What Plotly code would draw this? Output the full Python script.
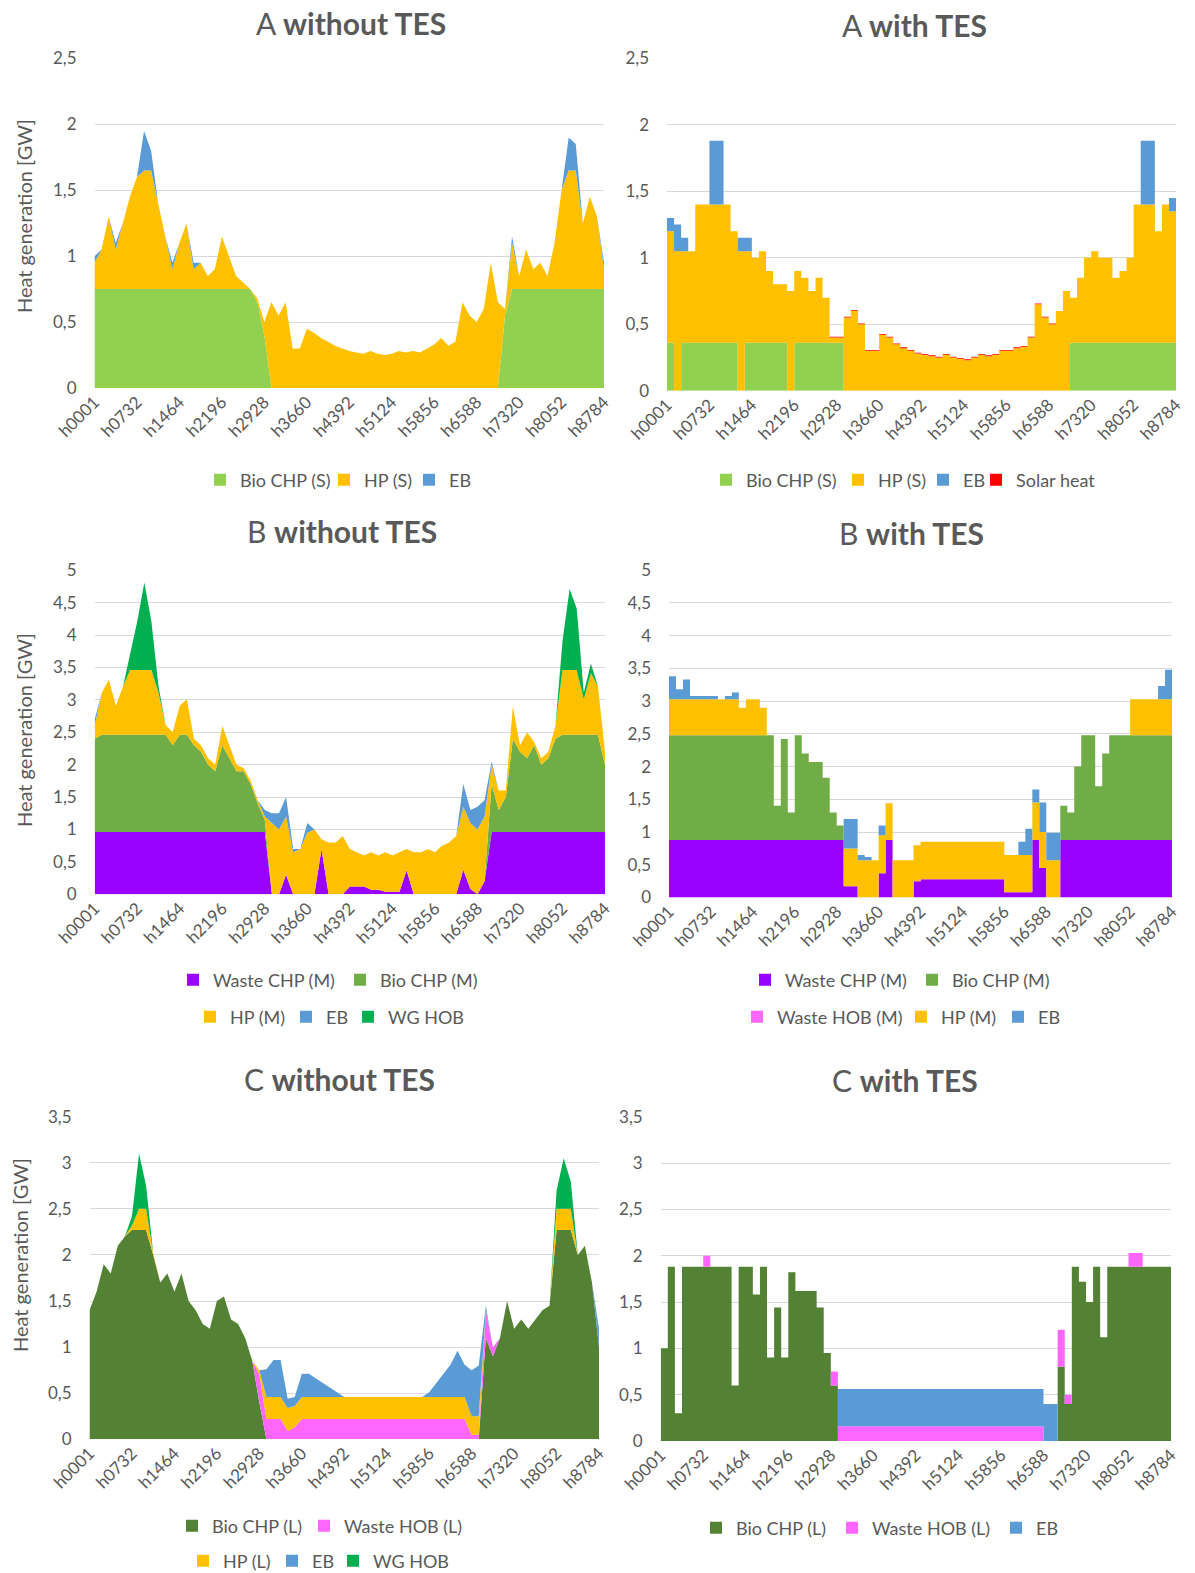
import plotly.graph_objects as go

# Hourly heat generation, sampled every 122 h over the year (last sample = h8784)
HOURS = list(range(1, 8785, 122)) + [8784]

TICK_HOURS = [1, 732, 1464, 2196, 2928, 3660, 4392, 5124, 5856, 6588, 7320, 8052, 8784]
TICK_LABELS = ["h0001", "h0732", "h1464", "h2196", "h2928", "h3660", "h4392",
               "h5124", "h5856", "h6588", "h7320", "h8052", "h8784"]

# ---------------- A without TES [GW] ----------------
A0_BIO_CHP = [
    0.75, 0.75, 0.75, 0.75, 0.75, 0.75, 0.75, 0.75, 0.75, 0.75, 0.75, 0.75,
    0.75, 0.75, 0.75, 0.75, 0.75, 0.75, 0.75, 0.75, 0.75, 0.75, 0.75, 0.65,
    0.4, 0, 0, 0, 0, 0, 0, 0, 0, 0, 0, 0,
    0, 0, 0, 0, 0, 0, 0, 0, 0, 0, 0, 0,
    0, 0, 0, 0, 0, 0, 0, 0, 0, 0, 0.55, 0.75,
    0.75, 0.75, 0.75, 0.75, 0.75, 0.75, 0.75, 0.75, 0.75, 0.75, 0.75, 0.75,
    0.75]
A0_HP = [
    0.2, 0.3, 0.55, 0.3, 0.5, 0.7, 0.85, 0.9, 0.9, 0.65, 0.4, 0.15,
    0.35, 0.5, 0.15, 0.2, 0.1, 0.15, 0.4, 0.25, 0.1, 0.05, 0.0, 0.03,
    0.1, 0.65, 0.55, 0.65, 0.3, 0.3, 0.45, 0.42, 0.38, 0.35, 0.32, 0.3,
    0.28, 0.27, 0.26, 0.28, 0.26, 0.25, 0.26, 0.28, 0.27, 0.28, 0.27, 0.3,
    0.33, 0.38, 0.32, 0.35, 0.65, 0.55, 0.5, 0.6, 0.95, 0.65, 0.05, 0.35,
    0.1, 0.3, 0.15, 0.2, 0.1, 0.35, 0.75, 0.9, 0.9, 0.5, 0.7, 0.55,
    0.15]
A0_EB = [
    0.05, 0, 0, 0.05, 0, 0, 0, 0.3, 0.15, 0, 0, 0.05,
    0, 0, 0.05, 0, 0, 0, 0, 0, 0, 0, 0, 0,
    0, 0, 0, 0, 0, 0, 0, 0, 0, 0, 0, 0,
    0, 0, 0, 0, 0, 0, 0, 0, 0, 0, 0, 0,
    0, 0, 0, 0, 0, 0, 0, 0, 0, 0, 0, 0.05,
    0, 0, 0, 0, 0, 0, 0, 0.25, 0.2, 0, 0, 0,
    0.05]

# ---------------- A with TES [GW] ----------------
A1_BIO_CHP = [
    0.36, 0, 0.36, 0.36, 0.36, 0.36, 0.36, 0.36, 0.36, 0.36, 0, 0.36,
    0.36, 0.36, 0.36, 0.36, 0.36, 0, 0.36, 0.36, 0.36, 0.36, 0.36, 0.36,
    0.36, 0, 0, 0, 0, 0, 0, 0, 0, 0, 0, 0,
    0, 0, 0, 0, 0, 0, 0, 0, 0, 0, 0, 0,
    0, 0, 0, 0, 0, 0, 0, 0, 0, 0.36, 0.36, 0.36,
    0.36, 0.36, 0.36, 0.36, 0.36, 0.36, 0.36, 0.36, 0.36, 0.36, 0.36, 0.36,
    0]
A1_HP = [
    0.84, 1.05, 0.69, 0.69, 1.04, 1.04, 1.04, 1.04, 1.04, 0.84, 1.05, 0.69,
    0.64, 0.69, 0.54, 0.44, 0.44, 0.75, 0.54, 0.49, 0.39, 0.49, 0.34, 0.04,
    0.04, 0.55, 0.6, 0.5, 0.3, 0.3, 0.42, 0.4, 0.35, 0.32, 0.3, 0.28,
    0.27, 0.26, 0.25, 0.27, 0.25, 0.24, 0.23, 0.25, 0.27, 0.26, 0.27, 0.3,
    0.3, 0.32, 0.33, 0.4, 0.65, 0.55, 0.5, 0.6, 0.75, 0.34, 0.49, 0.64,
    0.69, 0.64, 0.64, 0.49, 0.54, 0.64, 1.04, 1.04, 1.04, 0.84, 1.04, 0.99,
    1.05]
A1_EB = [
    0.1, 0.2, 0.1, 0, 0, 0, 0.48, 0.48, 0, 0, 0.1, 0.1,
    0, 0, 0, 0, 0, 0, 0, 0, 0, 0, 0, 0,
    0, 0, 0, 0, 0, 0, 0, 0, 0, 0, 0, 0,
    0, 0, 0, 0, 0, 0, 0, 0, 0, 0, 0, 0,
    0, 0, 0, 0, 0, 0, 0, 0, 0, 0, 0, 0,
    0, 0, 0, 0, 0, 0, 0, 0.48, 0.48, 0, 0, 0.1,
    0.45]
A1_SOLAR = [
    0, 0, 0, 0, 0, 0, 0, 0, 0, 0, 0, 0,
    0, 0, 0, 0, 0, 0, 0, 0, 0, 0, 0, 0.006,
    0.006, 0.006, 0.006, 0.006, 0.006, 0.006, 0.006, 0.006, 0.006, 0.006, 0.006, 0.006,
    0.006, 0.006, 0.006, 0.006, 0.006, 0.006, 0.006, 0.006, 0.006, 0.006, 0.006, 0.006,
    0.006, 0.006, 0.006, 0.006, 0.006, 0.006, 0.006, 0, 0, 0, 0, 0,
    0, 0, 0, 0, 0, 0, 0, 0, 0, 0, 0, 0,
    0]

# ---------------- B without TES [GW] ----------------
B0_WASTE_CHP = [
    0.96, 0.96, 0.96, 0.96, 0.96, 0.96, 0.96, 0.96, 0.96, 0.96, 0.96, 0.96,
    0.96, 0.96, 0.96, 0.96, 0.96, 0.96, 0.96, 0.96, 0.96, 0.96, 0.96, 0.96,
    0.96, 0, 0, 0.3, 0, 0, 0, 0, 0.7, 0, 0, 0,
    0.12, 0.12, 0.12, 0.07, 0.07, 0.04, 0.04, 0.04, 0.37, 0, 0, 0,
    0, 0, 0, 0, 0.38, 0.08, 0, 0.2, 0.96, 0.96, 0.96, 0.96,
    0.96, 0.96, 0.96, 0.96, 0.96, 0.96, 0.96, 0.96, 0.96, 0.96, 0.96, 0.96,
    0.96]
B0_BIO_CHP = [
    1.44, 1.5, 1.5, 1.5, 1.5, 1.5, 1.5, 1.5, 1.5, 1.5, 1.5, 1.34,
    1.5, 1.5, 1.34, 1.24, 1.04, 0.94, 1.34, 1.14, 0.94, 0.94, 0.74, 0.44,
    0.19, 0, 0, 0, 0, 0, 0, 0, 0, 0, 0, 0,
    0, 0, 0, 0, 0, 0, 0, 0, 0, 0, 0, 0,
    0, 0, 0, 0, 0, 0, 0, 0, 0.74, 0.34, 0.54, 1.44,
    1.24, 1.14, 1.34, 1.04, 1.14, 1.44, 1.5, 1.5, 1.5, 1.5, 1.5, 1.5,
    1.04]
B0_HP = [
    0.2, 0.65, 0.85, 0.45, 0.75, 1.0, 1.0, 1.0, 1.0, 0.65, 0.15, 0.2,
    0.45, 0.55, 0.1, 0.1, 0.1, 0.1, 0.3, 0.2, 0.1, 0.05, 0.05, 0.05,
    0.05, 1.1, 1.0, 0.9, 0.65, 0.7, 0.95, 1.0, 0.15, 0.8, 0.8, 0.9,
    0.58, 0.53, 0.48, 0.58, 0.53, 0.61, 0.56, 0.61, 0.33, 0.65, 0.65, 0.7,
    0.65, 0.75, 0.8, 0.9, 0.97, 1.02, 1.0, 1.0, 0.3, 0.3, 0.1, 0.5,
    0.1, 0.4, 0.05, 0.1, 0.1, 0.2, 1.0, 1.0, 1.0, 0.55, 0.95, 0.75,
    0.2]
B0_EB = [
    0.1, 0, 0, 0, 0, 0, 0, 0, 0, 0, 0, 0,
    0, 0, 0, 0, 0, 0, 0, 0, 0, 0, 0, 0,
    0.1, 0.15, 0.25, 0.3, 0.05, 0, 0.15, 0, 0, 0, 0, 0,
    0, 0, 0, 0, 0, 0, 0, 0, 0, 0, 0, 0,
    0, 0, 0, 0, 0.35, 0.2, 0.35, 0.25, 0.05, 0, 0, 0,
    0, 0, 0, 0, 0, 0, 0, 0, 0, 0, 0, 0,
    0]
B0_WG_HOB = [
    0, 0, 0, 0, 0, 0.25, 0.75, 1.35, 0.75, 0.1, 0, 0,
    0, 0, 0, 0, 0, 0, 0, 0, 0, 0, 0, 0,
    0, 0, 0, 0, 0, 0, 0, 0, 0, 0, 0, 0,
    0, 0, 0, 0, 0, 0, 0, 0, 0, 0, 0, 0,
    0, 0, 0, 0, 0, 0, 0, 0, 0, 0, 0, 0,
    0, 0, 0, 0, 0, 0, 0.45, 1.25, 0.95, 0.1, 0.15, 0,
    0]

# ---------------- B with TES [GW] ----------------
B1_WASTE_CHP = [
    0.88, 0.88, 0.88, 0.88, 0.88, 0.88, 0.88, 0.88, 0.88, 0.88, 0.88, 0.88,
    0.88, 0.88, 0.88, 0.88, 0.88, 0.88, 0.88, 0.88, 0.88, 0.88, 0.88, 0.88,
    0.88, 0.17, 0.17, 0, 0, 0, 0.37, 0.88, 0, 0, 0, 0.25,
    0.28, 0.28, 0.28, 0.28, 0.28, 0.28, 0.28, 0.28, 0.28, 0.28, 0.28, 0.28,
    0.08, 0.08, 0.08, 0.08, 0.88, 0.45, 0, 0, 0.88, 0.88, 0.88, 0.88,
    0.88, 0.88, 0.88, 0.88, 0.88, 0.88, 0.88, 0.88, 0.88, 0.88, 0.88, 0.88,
    0.88]
B1_BIO_CHP = [
    1.6, 1.6, 1.6, 1.6, 1.6, 1.6, 1.6, 1.6, 1.6, 1.6, 1.6, 1.6,
    1.6, 1.6, 1.6, 0.52, 1.54, 0.42, 1.6, 1.32, 1.19, 1.19, 0.95, 0.42,
    0.22, 0, 0, 0, 0, 0, 0, 0, 0, 0, 0, 0,
    0, 0, 0, 0, 0, 0, 0, 0, 0, 0, 0, 0,
    0, 0, 0, 0, 0, 0, 0, 0, 0.52, 0.42, 1.12, 1.6,
    1.6, 0.82, 1.32, 1.6, 1.6, 1.6, 1.6, 1.6, 1.6, 1.6, 1.6, 1.6,
    1.6]
B1_WASTE_HOB = [
    0, 0, 0, 0, 0, 0, 0, 0, 0, 0, 0, 0,
    0, 0, 0, 0, 0, 0, 0, 0, 0, 0, 0, 0,
    0, 0, 0, 0, 0, 0, 0, 0, 0, 0, 0, 0,
    0, 0, 0, 0, 0, 0, 0, 0, 0, 0, 0, 0,
    0, 0, 0, 0, 0, 0, 0, 0, 0, 0, 0, 0,
    0, 0, 0, 0, 0, 0, 0, 0, 0, 0, 0, 0,
    0]
B1_HP = [
    0.55, 0.55, 0.55, 0.55, 0.55, 0.55, 0.55, 0.55, 0.55, 0.55, 0.42, 0.55,
    0.55, 0.42, 0, 0, 0, 0, 0, 0, 0, 0, 0, 0,
    0, 0.58, 0.58, 0.57, 0.57, 0.57, 0.58, 0.56, 0.57, 0.57, 0.57, 0.55,
    0.57, 0.57, 0.57, 0.57, 0.57, 0.57, 0.57, 0.57, 0.57, 0.57, 0.57, 0.57,
    0.57, 0.57, 0.57, 0.57, 0.57, 0.55, 0.57, 0.57, 0, 0, 0, 0,
    0, 0, 0, 0, 0, 0, 0.55, 0.55, 0.55, 0.55, 0.55, 0.55,
    0.55]
B1_EB = [
    0.35, 0.15, 0.3, 0.05, 0.05, 0.05, 0.05, 0, 0.05, 0.1, 0, 0,
    0, 0, 0, 0, 0, 0, 0, 0, 0, 0, 0, 0,
    0, 0.45, 0.45, 0.08, 0.05, 0, 0.15, 0, 0, 0, 0, 0,
    0, 0, 0, 0, 0, 0, 0, 0, 0, 0, 0, 0,
    0, 0, 0.2, 0.4, 0.2, 0.45, 0.42, 0.42, 0, 0, 0, 0,
    0, 0, 0, 0, 0, 0, 0, 0, 0, 0, 0.2, 0.45,
    0.45]

# ---------------- C without TES [GW] ----------------
C0_BIO_CHP = [
    1.4, 1.6, 1.9, 1.8, 2.1, 2.2, 2.27, 2.27, 2.27, 2.0, 1.7, 1.8,
    1.6, 1.8, 1.5, 1.4, 1.25, 1.2, 1.5, 1.55, 1.3, 1.25, 1.1, 0.85,
    0.4, 0, 0, 0, 0, 0, 0, 0, 0, 0, 0, 0,
    0, 0, 0, 0, 0, 0, 0, 0, 0, 0, 0, 0,
    0, 0, 0, 0, 0, 0, 0, 0, 1.1, 0.9, 1.1, 1.5,
    1.2, 1.3, 1.2, 1.3, 1.4, 1.45, 2.27, 2.27, 2.27, 2.0, 2.1, 1.7,
    1.0]
C0_WASTE_HOB = [
    0, 0, 0, 0, 0, 0, 0, 0, 0, 0, 0, 0,
    0, 0, 0, 0, 0, 0, 0, 0, 0, 0, 0, 0,
    0.3, 0.22, 0.22, 0.22, 0.09, 0.13, 0.22, 0.22, 0.22, 0.22, 0.22, 0.22,
    0.22, 0.22, 0.22, 0.22, 0.22, 0.22, 0.22, 0.22, 0.22, 0.22, 0.22, 0.22,
    0.22, 0.22, 0.22, 0.22, 0.22, 0.22, 0.05, 0.05, 0.3, 0.1, 0, 0,
    0, 0, 0, 0, 0, 0, 0, 0, 0, 0, 0, 0,
    0]
C0_HP = [
    0, 0, 0, 0, 0, 0, 0.05, 0.23, 0.23, 0.02, 0, 0,
    0, 0, 0, 0, 0, 0, 0, 0, 0, 0, 0, 0,
    0.05, 0.24, 0.24, 0.24, 0.25, 0.23, 0.24, 0.24, 0.24, 0.24, 0.24, 0.24,
    0.24, 0.24, 0.24, 0.24, 0.24, 0.24, 0.24, 0.24, 0.24, 0.24, 0.24, 0.24,
    0.24, 0.24, 0.24, 0.24, 0.24, 0.24, 0.2, 0.2, 0, 0, 0, 0,
    0, 0, 0, 0, 0, 0, 0.23, 0.23, 0.23, 0, 0, 0,
    0]
C0_EB = [
    0, 0, 0, 0, 0, 0, 0, 0, 0, 0, 0, 0,
    0, 0, 0, 0, 0, 0, 0, 0, 0, 0, 0, 0,
    0, 0.3, 0.4, 0.4, 0.1, 0.1, 0.25, 0.25, 0.2, 0.15, 0.1, 0.05,
    0, 0, 0, 0, 0, 0, 0, 0, 0, 0, 0, 0,
    0.05, 0.15, 0.25, 0.35, 0.5, 0.35, 0.5, 0.55, 0.05, 0, 0, 0,
    0, 0, 0, 0, 0, 0, 0, 0, 0, 0, 0, 0,
    0.2]
C0_WG_HOB = [
    0, 0, 0, 0, 0, 0, 0.1, 0.6, 0.25, 0, 0, 0,
    0, 0, 0, 0, 0, 0, 0, 0, 0, 0, 0, 0,
    0, 0, 0, 0, 0, 0, 0, 0, 0, 0, 0, 0,
    0, 0, 0, 0, 0, 0, 0, 0, 0, 0, 0, 0,
    0, 0, 0, 0, 0, 0, 0, 0, 0, 0, 0, 0,
    0, 0, 0, 0, 0, 0, 0.2, 0.55, 0.3, 0, 0, 0,
    0]

# ---------------- C with TES [GW] ----------------
C1_BIO_CHP = [
    1.0, 1.88, 0.3, 1.88, 1.88, 1.88, 1.88, 1.88, 1.88, 1.88, 0.6, 1.88,
    1.88, 1.58, 1.88, 0.9, 1.44, 0.9, 1.82, 1.62, 1.62, 1.62, 1.44, 0.95,
    0.6, 0, 0, 0, 0, 0, 0, 0, 0, 0, 0, 0,
    0, 0, 0, 0, 0, 0, 0, 0, 0, 0, 0, 0,
    0, 0, 0, 0, 0, 0, 0, 0, 0.8, 0.4, 1.88, 1.72,
    1.5, 1.88, 1.12, 1.88, 1.88, 1.88, 1.88, 1.88, 1.88, 1.88, 1.88, 1.88,
    0.6]
C1_WASTE_HOB = [
    0, 0, 0, 0, 0, 0, 0.12, 0, 0, 0, 0, 0,
    0, 0, 0, 0, 0, 0, 0, 0, 0, 0, 0, 0,
    0.15, 0.16, 0.16, 0.16, 0.16, 0.16, 0.16, 0.16, 0.16, 0.16, 0.16, 0.16,
    0.16, 0.16, 0.16, 0.16, 0.16, 0.16, 0.16, 0.16, 0.16, 0.16, 0.16, 0.16,
    0.16, 0.16, 0.16, 0.16, 0.16, 0.16, 0, 0, 0.4, 0.1, 0, 0,
    0, 0, 0, 0, 0, 0, 0.15, 0.15, 0, 0, 0, 0,
    0]
C1_EB = [
    0, 0, 0, 0, 0, 0, 0, 0, 0, 0, 0, 0,
    0, 0, 0, 0, 0, 0, 0, 0, 0, 0, 0, 0,
    0, 0.4, 0.4, 0.4, 0.4, 0.4, 0.4, 0.4, 0.4, 0.4, 0.4, 0.4,
    0.4, 0.4, 0.4, 0.4, 0.4, 0.4, 0.4, 0.4, 0.4, 0.4, 0.4, 0.4,
    0.4, 0.4, 0.4, 0.4, 0.4, 0.4, 0.4, 0.4, 0, 0, 0, 0,
    0, 0, 0, 0, 0, 0, 0, 0, 0, 0, 0, 0,
    0]

# ---------------- colours ----------------
COL = {
    "bio_s": "#92d050",
    "bio_m": "#70ad47",
    "bio_l": "#548235",
    "hp": "#ffc000",
    "eb": "#5b9bd5",
    "solar": "#ff0000",
    "waste_chp": "#9900ff",
    "waste_hob": "#ff66ff",
    "wg_hob": "#00b050",
}
TEXT = "#595959"
GRID = "#d9d9d9"
FONT = "Lato, 'Open Sans', sans-serif"

FIG_W, FIG_H = 1195, 1573


def fx(px):
    return px / FIG_W


def fy(px):
    return 1 - px / FIG_H


# panel layout in pixels: plot box (x0, x1), (y_top, y_bottom);
# legend entries: (name, left edge of key square, row centre)
PANELS = [
    dict(title="A <b>without TES</b>", tpos=(351, 23), xb=(94.5, 604), yb=(58.4, 388),
         ymax=2.5, shape="linear", ytitle=(24, 216),
         series=[("Bio CHP (S)", A0_BIO_CHP, COL["bio_s"]),
                 ("HP (S)", A0_HP, COL["hp"]),
                 ("EB", A0_EB, COL["eb"])],
         legend=[("Bio CHP (S)", 218, 480), ("HP (S)", 342, 480), ("EB", 427, 480)]),
    dict(title="A <b>with TES</b>", tpos=(914, 25), xb=(667, 1176), yb=(58.4, 390.7),
         ymax=2.5, shape="hv", ytitle=None,
         series=[("Bio CHP (S)", A1_BIO_CHP, COL["bio_s"]),
                 ("HP (S)", A1_HP, COL["hp"]),
                 ("EB", A1_EB, COL["eb"]),
                 ("Solar heat", A1_SOLAR, COL["solar"])],
         legend=[("Bio CHP (S)", 724, 480), ("HP (S)", 856, 480),
                 ("EB", 941, 480), ("Solar heat", 994, 480)]),
    dict(title="B <b>without TES</b>", tpos=(342, 531), xb=(94.7, 605), yb=(570.2, 894.3),
         ymax=5, shape="linear", ytitle=(24, 730),
         series=[("Waste CHP (M)", B0_WASTE_CHP, COL["waste_chp"]),
                 ("Bio CHP (M)", B0_BIO_CHP, COL["bio_m"]),
                 ("HP (M)", B0_HP, COL["hp"]),
                 ("EB", B0_EB, COL["eb"]),
                 ("WG HOB", B0_WG_HOB, COL["wg_hob"])],
         legend=[("Waste CHP (M)", 191, 980), ("Bio CHP (M)", 358, 980),
                 ("HP (M)", 208, 1017), ("EB", 304, 1017), ("WG HOB", 366, 1017)]),
    dict(title="B <b>with TES</b>", tpos=(911, 533), xb=(669, 1172), yb=(570.2, 897.5),
         ymax=5, shape="hv", ytitle=None,
         series=[("Waste CHP (M)", B1_WASTE_CHP, COL["waste_chp"]),
                 ("Bio CHP (M)", B1_BIO_CHP, COL["bio_m"]),
                 ("Waste HOB (M)", B1_WASTE_HOB, COL["waste_hob"]),
                 ("HP (M)", B1_HP, COL["hp"]),
                 ("EB", B1_EB, COL["eb"])],
         legend=[("Waste CHP (M)", 763, 980), ("Bio CHP (M)", 930, 980),
                 ("Waste HOB (M)", 755, 1017), ("HP (M)", 919, 1017), ("EB", 1016, 1017)]),
    dict(title="C <b>without TES</b>", tpos=(339, 1079), xb=(89.5, 599), yb=(1116.7, 1439.3),
         ymax=3.5, shape="linear", ytitle=(20, 1255),
         series=[("Bio CHP (L)", C0_BIO_CHP, COL["bio_l"]),
                 ("Waste HOB (L)", C0_WASTE_HOB, COL["waste_hob"]),
                 ("HP (L)", C0_HP, COL["hp"]),
                 ("EB", C0_EB, COL["eb"]),
                 ("WG HOB", C0_WG_HOB, COL["wg_hob"])],
         legend=[("Bio CHP (L)", 190, 1526), ("Waste HOB (L)", 322, 1526),
                 ("HP (L)", 201, 1561), ("EB", 290, 1561), ("WG HOB", 351, 1561)]),
    dict(title="C <b>with TES</b>", tpos=(905, 1080), xb=(660.7, 1171), yb=(1116.7, 1441),
         ymax=3.5, shape="hv", ytitle=None,
         series=[("Bio CHP (L)", C1_BIO_CHP, COL["bio_l"]),
                 ("Waste HOB (L)", C1_WASTE_HOB, COL["waste_hob"]),
                 ("EB", C1_EB, COL["eb"])],
         legend=[("Bio CHP (L)", 714, 1528), ("Waste HOB (L)", 850, 1528), ("EB", 1014, 1528)]),
]

fig = go.Figure()
layout = dict(
    width=FIG_W, height=FIG_H,
    margin=dict(l=0, r=0, t=0, b=0, autoexpand=False),
    paper_bgcolor="white", plot_bgcolor="white",
    separators=",.",
    font=dict(family=FONT, color=TEXT),
    hovermode=False,
    annotations=[],
)

legend_no = 0
for i, p in enumerate(PANELS, start=1):
    xa = "x" if i == 1 else f"x{i}"
    ya = "y" if i == 1 else f"y{i}"
    colors = {}
    # stacked areas
    for name, vals, color in p["series"]:
        colors[name] = color
        fig.add_trace(go.Scatter(
            x=HOURS, y=vals, name=name, mode="lines",
            line=dict(width=0, shape=p["shape"], color=color),
            fillcolor=color, stackgroup=f"s{i}",
            showlegend=False, xaxis=xa, yaxis=ya,
        ))
    # legend keys, each placed on its own
    for name, sq_left, row_y in p["legend"]:
        legend_no += 1
        lkey = "legend" if legend_no == 1 else f"legend{legend_no}"
        fig.add_trace(go.Bar(
            x=[None], y=[None], name=name,
            marker=dict(color=colors[name], line=dict(width=0)),
            legend=lkey, showlegend=True, xaxis=xa, yaxis=ya,
        ))
        layout[lkey] = dict(
            x=fx(sq_left - 18), y=fy(row_y), xanchor="left", yanchor="middle",
            orientation="h", bgcolor="rgba(0,0,0,0)", traceorder="normal",
            font=dict(family=FONT, size=18, color=TEXT),
            itemclick=False, itemdoubleclick=False,
        )

    axx = "xaxis" if i == 1 else f"xaxis{i}"
    axy = "yaxis" if i == 1 else f"yaxis{i}"
    layout[axx] = dict(
        domain=[fx(p["xb"][0]), fx(p["xb"][1])], anchor=ya,
        range=[1, 8784], tickmode="array", tickvals=TICK_HOURS, ticktext=TICK_LABELS,
        tickangle=-45, showgrid=False, zeroline=False, showline=False, ticks="",
        tickfont=dict(family=FONT, size=17, color=TEXT), fixedrange=True,
    )
    layout[axy] = dict(
        domain=[fy(p["yb"][1]), fy(p["yb"][0])], anchor=xa,
        range=[0, p["ymax"]], tick0=0, dtick=0.5,
        showgrid=True, gridcolor=GRID, gridwidth=1, zeroline=False, showline=False,
        ticks="", ticklabelstandoff=17,
        tickfont=dict(family=FONT, size=17, color=TEXT), fixedrange=True,
    )
    # panel title
    layout["annotations"].append(dict(
        text=p["title"], x=fx(p["tpos"][0]), y=fy(p["tpos"][1]),
        xref="paper", yref="paper", xanchor="center", yanchor="middle",
        showarrow=False, font=dict(family=FONT, size=30, color=TEXT),
    ))
    if p["ytitle"]:
        layout["annotations"].append(dict(
            text="Heat generation [GW]", x=fx(p["ytitle"][0]), y=fy(p["ytitle"][1]),
            xref="paper", yref="paper", xanchor="center", yanchor="middle",
            textangle=-90, showarrow=False,
            font=dict(family=FONT, size=20, color=TEXT),
        ))

fig.update_layout(**layout)
fig.write_html("out.html")
